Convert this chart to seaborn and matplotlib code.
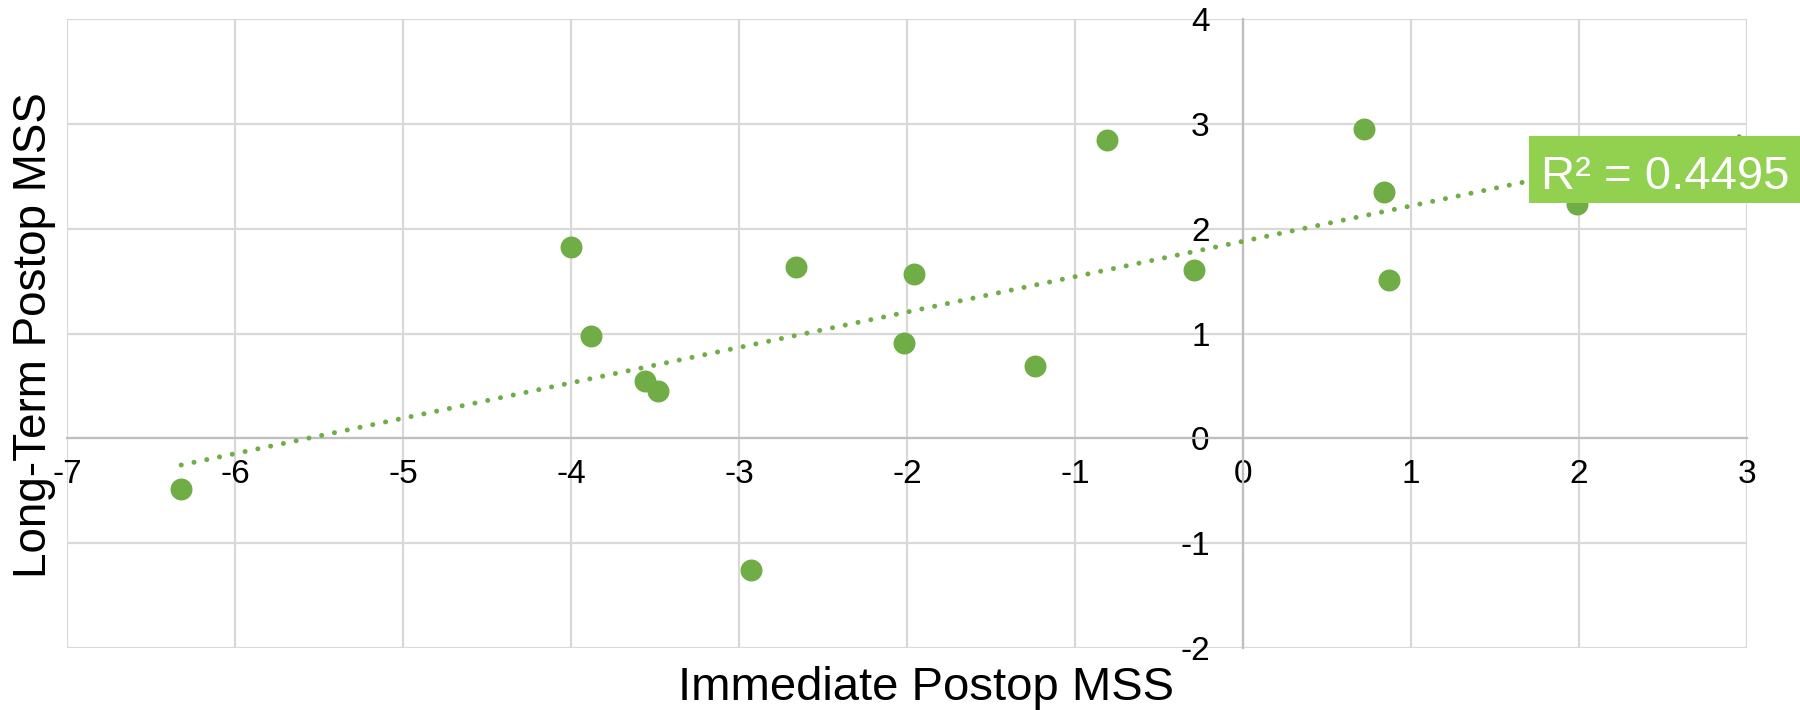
import numpy as np
import matplotlib
matplotlib.use("Agg")
import matplotlib.pyplot as plt
import seaborn as sns
from matplotlib.patches import Rectangle

sns.set_style("white")
plt.rcParams['font.family'] = ['Liberation Sans', 'DejaVu Sans']

# values
immediate = [-6.32, -4.00, -3.88, -3.56, -3.48, -2.93, -2.66, -2.02,
             -1.96, -1.24, -0.81, -0.29, 0.72, 0.84, 0.87, 1.99]
long_term = [-0.48, 1.83, 0.98, 0.55, 0.45, -1.26, 1.63, 0.91,
             1.57, 0.69, 2.85, 1.61, 2.95, 2.35, 1.51, 2.24]
x_ticks = [-7, -6, -5, -4, -3, -2, -1, 0, 1, 2, 3]
y_ticks = [-2, -1, 0, 1, 2, 3, 4]
r2_label = "R² = 0.4495"

green = '#70ad47'
grid_col = '#d9d9d9'
axis_col = '#bfbfbf'

fig = plt.figure(figsize=(18, 7.1), dpi=100)
ax = fig.add_axes([0.0372, 0.0873, 0.9334, 0.8859])

sns.scatterplot(x=immediate, y=long_term, ax=ax, s=250, color=green,
                linewidth=0, zorder=4)

# linear trendline, extended forward to x = 3
slope, intercept = np.polyfit(immediate, long_term, 1)
xfit = np.array([min(immediate), 3])
ax.plot(xfit, slope * xfit + intercept, color=green, lw=3.6,
        linestyle=(0, (0.01, 2.6)), dash_capstyle='round', zorder=3)

ax.set_xlim(-7, 3)
ax.set_ylim(-2, 4)
ax.set_xticks(x_ticks)
ax.set_yticks(y_ticks)
ax.grid(True, color=grid_col, lw=1.6, zorder=0)
ax.set_axisbelow(True)

for side in ['top', 'right']:
    ax.spines[side].set_visible(False)
ax.spines['left'].set_position(('data', 0))
ax.spines['bottom'].set_position(('data', 0))
for side in ['left', 'bottom']:
    ax.spines[side].set_color(axis_col)
    ax.spines[side].set_linewidth(1.6)

ax.tick_params(axis='x', length=0, pad=15, labelsize=24, labelcolor='black')
ax.tick_params(axis='y', length=0, pad=24, labelsize=24, labelcolor='black')
ax.set_xticklabels([str(t) for t in x_ticks])
ax.set_yticklabels([str(t) for t in y_ticks])

fig.text(926 / 1800, 1 - 700 / 710, "Immediate Postop MSS", fontsize=34,
         color='black', ha='center', va='baseline')
fig.text(34 / 1800, 1 - 335 / 710, "Long-Term Postop MSS", fontsize=33,
         color='black', rotation=90, ha='center', va='center')

# R² label box
fig.patches.append(Rectangle((1529 / 1800, 1 - 203 / 710), 271 / 1800,
                             67 / 710, transform=fig.transFigure,
                             facecolor='#92d050', edgecolor='none', zorder=5))
fig.text(1541 / 1800, 1 - 189 / 710, r2_label, fontsize=34, color='white',
         ha='left', va='baseline', zorder=6)

fig.savefig('out.png', dpi=100)
